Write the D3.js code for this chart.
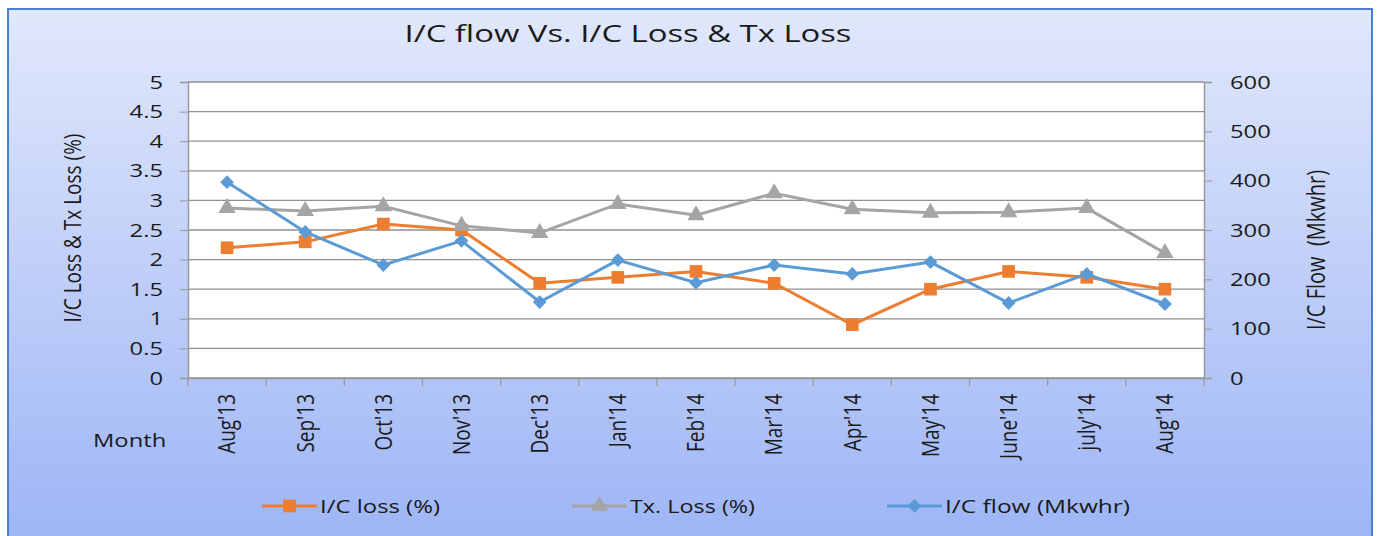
<!DOCTYPE html>
<html>
<head>
<meta charset="utf-8">
<script src="https://cdn.jsdelivr.net/npm/d3@7"></script>
<style>
  body { margin: 0; background: #fff; }
  text { font-family: "Open Sans", "DejaVu Sans", sans-serif; fill: #1a1a1a; }
</style>
</head>
<body>
<div id="chart"></div>
<script>
// data
const months = ["Aug'13", "Sep'13", "Oct'13", "Nov'13", "Dec'13", "Jan'14", "Feb'14",
  "Mar'14", "Apr'14", "May'14", "June'14", "july'14", "Aug'14"];
const icLoss = [2.2, 2.3, 2.6, 2.5, 1.6, 1.7, 1.8, 1.6, 0.9, 1.5, 1.8, 1.7, 1.5];
const txLoss = [2.87, 2.82, 2.9, 2.57, 2.45, 2.94, 2.75, 3.12, 2.85, 2.79, 2.8, 2.87, 2.11];
const icFlow = [397, 296, 229, 278, 154, 239, 193, 229, 211, 235, 152, 211, 150];
const leftTicks = [0, 0.5, 1, 1.5, 2, 2.5, 3, 3.5, 4, 4.5, 5];
const rightTicks = [0, 100, 200, 300, 400, 500, 600];

const W = 1378, H = 536;
const margin = {top: 82, right: 174, bottom: 158, left: 188};
const width = W - margin.left - margin.right;
const height = H - margin.top - margin.bottom;
const sx = 1.25; // the original text is drawn a little wide

const svg = d3.select("#chart").append("svg")
  .attr("width", W).attr("height", H);

// background gradient
const defs = svg.append("defs");
const grad = defs.append("linearGradient").attr("id", "bg")
  .attr("x1", 0).attr("y1", 0).attr("x2", 0).attr("y2", 1);
grad.append("stop").attr("offset", "0%").attr("stop-color", "#e1e8fb");
grad.append("stop").attr("offset", "100%").attr("stop-color", "#9db5f6");

svg.append("rect")
  .attr("x", 8).attr("y", 9).attr("width", W - 14).attr("height", H)
  .attr("fill", "url(#bg)")
  .attr("stroke", "#4a7fd4").attr("stroke-width", 2);

const g = svg.append("g")
  .attr("transform", `translate(${margin.left}, ${margin.top})`);

// plot area
g.append("rect").attr("width", width).attr("height", height).attr("fill", "#fff");

const x = d3.scaleBand().domain(months).range([0, width]);
const y = d3.scaleLinear().domain([0, 5]).range([height, 0]);
const y2 = d3.scaleLinear().domain([0, 600]).range([height, 0]);

// gridlines
g.append("g")
  .selectAll("line")
  .data(leftTicks)
  .join("line")
    .attr("x1", 0).attr("x2", width)
    .attr("y1", d => y(d)).attr("y2", d => y(d))
    .attr("stroke", "#8f8f8f").attr("stroke-width", 1.3);

// left axis
const yAxis = g.append("g")
  .call(d3.axisLeft(y).tickValues(leftTicks).tickSize(8).tickFormat(d3.format("")));
yAxis.select(".domain").attr("stroke", "#999").attr("stroke-width", 1.5);
yAxis.selectAll(".tick line").attr("stroke", "#999");
yAxis.selectAll(".tick text")
  .attr("x", 0)
  .attr("transform", `translate(-25, 0) scale(${sx}, 1)`)
  .style("font-size", "19px").attr("fill", "#1a1a1a");

// right axis
const yAxis2 = g.append("g")
  .attr("transform", `translate(${width}, 0)`)
  .call(d3.axisRight(y2).tickValues(rightTicks).tickSize(8));
yAxis2.select(".domain").attr("stroke", "#999").attr("stroke-width", 1.5);
yAxis2.selectAll(".tick line").attr("stroke", "#999");
yAxis2.selectAll(".tick text")
  .attr("x", 0)
  .attr("transform", `translate(26, 0) scale(${sx}, 1)`)
  .style("font-size", "19px").attr("fill", "#1a1a1a");

// bottom axis with ticks at category boundaries
const xAxis = g.append("g")
  .attr("transform", `translate(0, ${height})`)
  .call(d3.axisBottom(x).tickSize(0).tickPadding(0));
xAxis.select(".domain").attr("stroke", "#999").attr("stroke-width", 1.5);
xAxis.selectAll(".tick text")
  .attr("transform", `scale(${sx}, 1) rotate(-90)`)
  .attr("x", -16).attr("y", 0).attr("dy", "0.35em")
  .style("text-anchor", "end")
  .style("font-size", "19px").attr("fill", "#1a1a1a");
g.append("g")
  .selectAll("line")
  .data(d3.range(months.length + 1))
  .join("line")
    .attr("x1", i => i * x.step()).attr("x2", i => i * x.step())
    .attr("y1", height).attr("y2", height + 8)
    .attr("stroke", "#999").attr("stroke-width", 1.3);

// series
const cx = (d, i) => x(months[i]) + x.bandwidth() / 2;
const series = [
  {name: "I/C loss (%)", values: icLoss, scale: y, color: "#ed7d31", symbol: d3.symbolSquare, size: 160, rot: 0},
  {name: "Tx. Loss (%)", values: txLoss, scale: y, color: "#a5a5a5", symbol: d3.symbolTriangle, size: 130, rot: 0},
  {name: "I/C flow (Mkwhr)", values: icFlow, scale: y2, color: "#5b9bd5", symbol: d3.symbolSquare, size: 95, rot: 45}
];

series.forEach(s => {
  const line = d3.line().x((d, i) => cx(d, i)).y(d => s.scale(d));
  g.append("path")
    .datum(s.values)
    .attr("fill", "none")
    .attr("stroke", s.color)
    .attr("stroke-width", 3)
    .attr("d", line);
  g.append("g")
    .selectAll("path")
    .data(s.values)
    .join("path")
      .attr("transform", (d, i) => `translate(${cx(d, i)}, ${s.scale(d)}) rotate(${s.rot})`)
      .attr("d", d3.symbol().type(s.symbol).size(s.size))
      .attr("fill", s.color);
});

// titles
svg.append("text")
  .attr("x", 628).attr("y", 42)
  .style("text-anchor", "middle")
  .style("font-size", "24px")
  .attr("textLength", 447).attr("lengthAdjust", "spacingAndGlyphs")
  .text("I/C flow Vs. I/C Loss & Tx Loss");

svg.append("text")
  .attr("transform", `translate(81, ${margin.top + height / 2 - 2}) scale(${sx}, 1) rotate(-90)`)
  .style("text-anchor", "middle")
  .style("font-size", "19px")
  .text("I/C Loss & Tx Loss (%)");

svg.append("text")
  .attr("transform", `translate(1325, 250) scale(${sx}, 1) rotate(-90)`)
  .style("text-anchor", "middle")
  .style("font-size", "20px")
  .text("I/C Flow \u00a0(Mkwhr)");

svg.append("text")
  .attr("transform", `translate(93, 447) scale(${sx}, 1)`)
  .style("font-size", "19px")
  .text("Month");

// legend
const legendX = [262, 572, 887];
const legendW = [120, 125, 185];
const legend = svg.append("g")
  .selectAll("g")
  .data(series)
  .join("g")
    .attr("transform", (d, i) => `translate(${legendX[i]}, 506)`);
legend.append("line")
  .attr("x1", 0).attr("x2", 55)
  .attr("stroke", d => d.color).attr("stroke-width", 3);
legend.append("path")
  .attr("transform", d => `translate(27.5, 0) rotate(${d.rot})`)
  .attr("d", d => d3.symbol().type(d.symbol).size(d.size)())
  .attr("fill", d => d.color);
legend.append("text")
  .attr("x", 58).attr("dy", "0.35em")
  .style("font-size", "19px")
  .attr("textLength", (d, i) => legendW[i]).attr("lengthAdjust", "spacingAndGlyphs")
  .text(d => d.name);
</script>
</body>
</html>
